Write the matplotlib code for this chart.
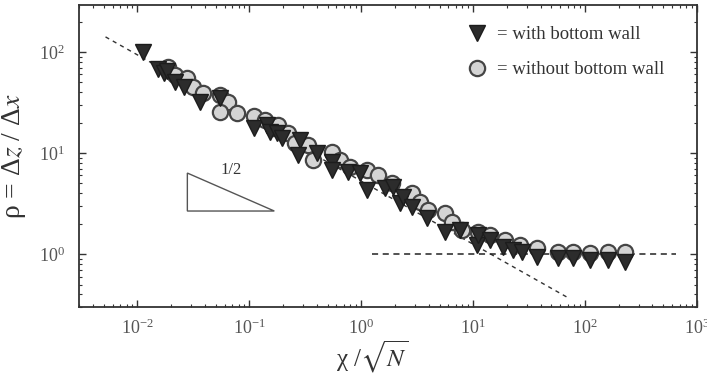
import matplotlib
matplotlib.use("Agg")
import matplotlib.pyplot as plt
from matplotlib.patches import Polygon

plt.rcParams['font.family'] = ['Liberation Serif', 'DejaVu Serif']
plt.rcParams['mathtext.fontset'] = 'stix'

# with bottom wall (triangles)
x_wall = [0.0113, 0.0154, 0.0171, 0.0185, 0.0218, 0.0258, 0.0365, 0.0551,
          0.109, 0.145, 0.154, 0.178, 0.197, 0.285, 0.274, 0.405, 0.551, 0.551,
          0.766, 0.98, 1.13, 1.64, 1.93, 2.23, 2.37, 2.85, 3.88, 5.62, 7.66,
          10.9, 11.1, 14.2, 18.5, 22.8, 27.4, 37.3, 57.4, 78.1, 111, 160, 228]
y_wall = [100, 67.9, 62, 64.9, 50.5, 45, 32, 35,
          17.7, 18.9, 16.1, 15.8, 14.1, 13.4, 9.55, 10, 8.15, 6.79,
          6.49, 6.34, 4.3, 4.5, 4.6, 3.2, 3.67, 2.92, 2.27, 1.65, 1.73,
          1.23, 1.54, 1.38, 1.17, 1.10, 1.05, 0.934, 0.913, 0.913, 0.873, 0.873, 0.833]

# without bottom wall (circles)
x_free = [0.0189, 0.0218, 0.0279, 0.0316, 0.0388, 0.0551, 0.065, 0.0551, 0.078,
          0.109, 0.139, 0.164, 0.181, 0.223, 0.258, 0.336, 0.373, 0.551, 0.65,
          0.798, 1.13, 1.42, 1.89, 2.85, 3.36, 3.96, 5.62, 6.49, 7.98, 11.1,
          14.2, 19.3, 26.3, 37.3, 57.4, 78.1, 111, 160, 228]
y_free = [71, 59, 55.3, 45, 39.3, 37.5, 32, 25.5, 24.9,
          23.2, 21.2, 17.7, 18.9, 15.8, 12.6, 12, 8.5, 10.2, 8.5,
          7.27, 6.79, 6.06, 5.05, 4.02, 3.27, 2.73, 2.55, 2.07, 1.73, 1.65,
          1.54, 1.38, 1.23, 1.15, 1.05, 1.05, 1.02, 1.05, 1.05]

# guide lines
fit_x = [0.00518, 69.0]
fit_y = [141, 0.375]
flat_x = [1.25, 650]
flat_y = [1.0, 1.0]

fig = plt.figure(figsize=(7.07, 3.79), dpi=100)
ax = fig.add_axes([0.1117, 0.19, 0.8742, 0.797])

ax.plot(fit_x, fit_y, ls=(0, (3, 3)), color='#333333', lw=1)
ax.plot(flat_x, flat_y, ls=(0, (4, 3)), color='#222222', lw=1.1)

ax.plot(x_free, y_free, 'o', ms=11, mfc='#d4d4d4', mec='#454545', mew=1.6,
        ls='none', label='= without bottom wall', zorder=3)
ax.plot(x_wall, y_wall, 'v', ms=12, mfc='#2c2c2c', mec='#1c1c1c', mew=1,
        ls='none', label='= with bottom wall', zorder=4)

# slope triangle
tri = Polygon([[0.0279, 6.34], [0.0279, 2.67], [0.167, 2.67]], closed=True,
              fill=False, edgecolor='#555555', lw=1)
ax.add_patch(tri)
ax.text(0.069, 6.8, '1/2', fontsize=12, color='#333333', ha='center', va='center')

ax.set_xscale('log')
ax.set_yscale('log')
ax.set_xlim(0.003, 1000)
ax.set_ylim(0.3, 292)

ax.set_xlabel('χ /$\\sqrt{N}$', fontsize=18, color='#333333')
ax.xaxis.set_label_coords(0.475, -0.105)
ax.set_ylabel('ρ = Δ$z$ / Δ$x$', fontsize=20, color='#333333', labelpad=8)

ax.tick_params(which='both', direction='in', top=True, right=True,
               colors='#333333', labelsize=13, labelcolor='#555555')
ax.tick_params(which='major', length=5, width=1)
ax.tick_params(which='minor', length=2.5, width=0.8)
ax.tick_params(axis='x', pad=8)
ax.tick_params(axis='y', pad=10)
for s in ax.spines.values():
    s.set_color('#333333')
    s.set_linewidth(1.3)

handles, labels = ax.get_legend_handles_labels()
ax.legend(handles[::-1], labels[::-1], loc='upper right', frameon=False,
          fontsize=13.5, handletextpad=0.1, labelspacing=0.95,
          bbox_to_anchor=(0.975, 0.985), labelcolor='#333333')

fig.savefig('out.png', dpi=100)
